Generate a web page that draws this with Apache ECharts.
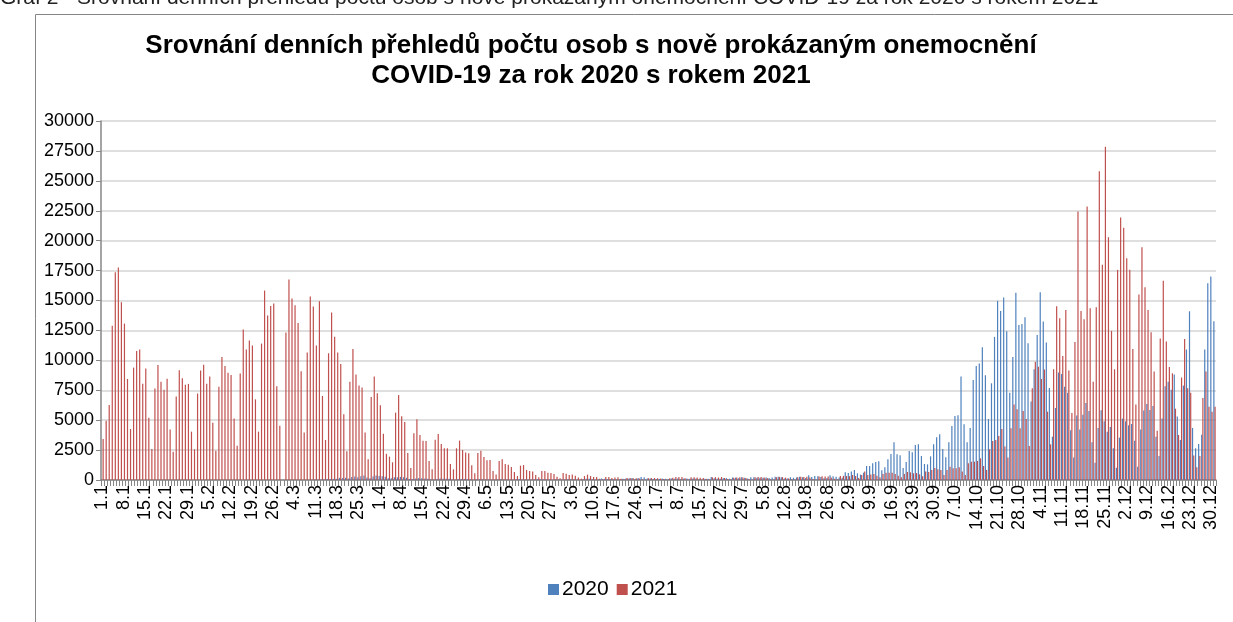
<!DOCTYPE html>
<html>
<head>
<meta charset="utf-8">
<script src="https://cdn.jsdelivr.net/npm/echarts@6/dist/echarts.min.js"></script>
<style>
    html, body { margin: 0; padding: 0; background: #fff; }
    #chart { width: 1233px; height: 622px; }
</style>
</head>
<body>
<div id="chart"></div>
<script>
// delky mesicu v prestupnem roce (osa ma i 29.2)
var monthDays = [31, 29, 31, 30, 31, 30, 31, 31, 30, 31, 30, 31];

// 2020 - denni pocty, po mesicich (366 dni)
var cases2020 = [].concat(
    // leden
    [0,0,0,0,0,0,0,0,0,0,0,0,0,0,0,0,0,0,0,0,0,0,0,0,0,0,0,0,0,0,0],
    // unor
    [0,0,0,0,0,0,0,0,0,0,0,0,0,0,0,0,0,0,0,0,0,0,0,0,0,0,0,0,0],
    // brezen
    [3,0,2,0,3,7,7,5,9,23,49,22,46,37,90,86,94,97,183,162,178,119,255,288,239,323,372,219,155,298,366],
    // duben
    [336,309,274,137,137,238,223,259,230,187,93,82,128,167,149,125,109,72,47,92,123,99,112,103,42,30,63,80,91,62],
    // kveten
    [46,20,37,71,62,43,38,21,11,48,74,43,36,16,22,69,90,52,46,33,33,56,79,55,56,39,32,22,60,58,47],
    // cerven
    [72,92,82,65,33,23,61,107,99,65,37,56,127,98,92,79,67,72,63,110,116,121,168,93,168,260,230,119,121,84],
    // cervenec
    [90,88,116,101,74,124,111,122,82,135,132,102,128,133,58,51,103,113,248,138,100,108,140,153,108,210,196,149,222,181,126],
    // srpen
    [229,238,179,194,189,215,162,215,271,282,235,129,135,230,190,217,272,240,167,400,260,335,311,253,138,163,402,304,276,218,191],
    // zari
    [650,590,700,840,560,450,610,1170,1170,1390,1500,1560,810,1060,1730,2170,3150,2150,2060,1000,1500,2420,2310,2930,2980,2010,1340,1310,1980,2980],
    // rijen
    [3570,3820,2590,1900,3150,4520,5350,5410,8640,4650,3150,4350,8360,9530,9730,11090,8750,5100,8080,11960,14970,14130,15250,12430,7300,10280,15640,12960,13040,13600,11430],
    // listopad
    [6550,9250,12120,15690,13240,11480,7690,3620,6020,8980,8860,7800,7300,4150,1870,5380,4210,5460,6440,5770,3150,1450,4350,5820,4900,4040,4430,2650,1030,3540],
    // prosinec
    [5130,4900,4570,4680,3290,1110,4210,5800,6350,5850,6190,3620,2010,5130,7830,8220,7550,8810,5300,3340,7890,10900,14100,4350,2650,3010,3790,10900,16440,17000,13270]
);

// 2021 - denni pocty, po mesicich (365 dni, 29.2 chybi)
var cases2021 = [].concat(
    // leden
    [3430,4960,6270,12900,17360,17750,14860,13070,8440,4260,9390,10790,10900,8050,9310,5210,2590,7640,9620,8220,7550,8470,4210,2370,6970,9170,8500,7970,8030,4040,2560],
    // unor
    [7220,9140,9640,8050,8640,4790,2450,7800,10280,9530,8970,8780,5130,2870,8890,12570,10900,11650,11230,6740,4040,11400,15830,13740,14550,14740,7830,4540],
    // brezen
    [12320,16750,15160,14600,13130,9090,3960,10650,15330,14490,11230,14940,7020,3340,10590,13990,11980,10650,9700,5490,2400,8220,10950,8810,7890,7720,3960,1730,6940,8640,7250],
    // duben
    [6240,3860,2190,1950,1480,5630,7110,5320,4850,2260,1000,3900,5070,3760,3290,3260,1590,890,3370,3850,3010,2650,2650,1340,890,2650,3290,2510,2290,2230],
    // kveten
    [1230,560,2260,2450,1920,1640,1670,750,450,1590,1730,1340,1280,1090,670,330,1200,1250,840,750,720,420,220,750,750,610,590,500,280,140,590],
    // cerven
    [530,420,470,360,200,110,330,450,330,250,250,110,60,250,250,170,200,220,110,80,170,170,150,140,130,70,50,150,160,170],
    // cervenec
    [150,130,90,40,140,180,250,260,250,140,70,230,240,210,190,170,80,50,220,240,210,250,170,80,50,180,210,220,200,160,70],
    // srpen
    [40,220,250,260,210,160,70,40,230,260,240,200,130,60,40,230,270,250,280,210,90,50,290,320,300,290,210,100,60,330,350],
    // zari
    [340,320,420,330,170,420,700,420,470,500,360,220,500,610,610,610,500,360,220,500,670,640,560,580,470,310,720,670,840,1000],
    // rijen
    [890,840,420,840,1110,980,980,1060,700,420,1390,1530,1530,1590,1810,1170,840,2560,3260,3340,3680,4260,2790,1870,4320,6300,5910,4320,5770,5100,2840],
    // listopad
    [7660,9890,9470,8440,9230,5710,2980,9250,14520,13520,10370,14210,9140,5600,11540,22440,14130,13430,22850,14350,8220,14440,25800,17980,27840,20290,12460,9250,17560,21940],
    // prosinec
    [21070,18530,17560,10950,6300,15500,19450,16110,14210,12350,9060,4120,11820,16640,11570,9450,8920,5960,3760,8560,11790,7660,7300,2040,1060,2010,6860,9060,6130,5710,6130]
);

var yearNames = ["2020", "2021"];
var yTicks = { min: 0, max: 30000, step: 2500 };

// popisky dni "d.m"
var days = [];
monthDays.forEach(function (n, m) {
    for (var d = 1; d <= n; d++) {
        days.push(d + "." + (m + 1));
    }
});

// 2021 nema 29.2 - prazdne misto na ose
var series2021 = cases2021.slice(0, 59).concat([null], cases2021.slice(59));

var font = "Liberation Sans, Arial, sans-serif";
var chart = echarts.init(document.getElementById("chart"), null, { renderer: "canvas" });

chart.setOption({
    backgroundColor: "#fff",
    animation: false,
    color: ["#4F81BD", "#C0504D"],
    title: {
        text: "Srovnání denních přehledů počtu osob s nově prokázaným onemocnění\nCOVID-19 za rok 2020 s rokem 2021",
        left: 586,
        top: 26,
        textAlign: "center",
        textStyle: {
            fontFamily: font,
            fontSize: 26,
            fontWeight: "bold",
            color: "#000",
            lineHeight: 30
        }
    },
    graphic: [
        {
            type: "text",
            left: 0,
            top: -12,
            style: {
                text: "Graf 2 - Srovnání denních přehledů počtu osob s nově prokázaným onemocnění COVID-19 za rok 2020 s rokem 2021",
                font: "21px " + font,
                fill: "#222"
            }
        },
        {
            type: "rect",
            shape: { x: 35.5, y: 14.5, width: 1300, height: 700 },
            style: { fill: null, stroke: "#868686", lineWidth: 1 },
            silent: true
        }
    ],
    legend: {
        data: yearNames,
        left: 543,
        top: 574,
        icon: "rect",
        itemWidth: 11,
        itemHeight: 11,
        itemGap: 8,
        textStyle: { fontFamily: font, fontSize: 21, color: "#000", padding: [0, 0, 0, -2] }
    },
    grid: {
        left: 101,
        right: 17,
        top: 121,
        bottom: 142
    },
    xAxis: {
        type: "category",
        data: days,
        boundaryGap: true,
        axisLine: { lineStyle: { color: "#868686", width: 1.5 } },
        axisTick: { show: true, interval: 0, length: 6, lineStyle: { color: "#868686", width: 1 } },
        axisLabel: {
            interval: 6,
            rotate: 90,
            margin: 5,
            fontFamily: font,
            fontSize: 18,
            color: "#000"
        },
        splitLine: { show: false }
    },
    yAxis: {
        type: "value",
        min: yTicks.min,
        max: yTicks.max,
        interval: yTicks.step,
        axisLine: { show: true, lineStyle: { color: "#868686", width: 1.5 } },
        axisTick: { show: true, length: 5, lineStyle: { color: "#868686" } },
        axisLabel: {
            fontFamily: font,
            fontSize: 18,
            color: "#000",
            margin: 7,
            formatter: function (v) { return String(v); }
        },
        splitLine: { lineStyle: { color: "#d4d4d4", width: 1.5 } }
    },
    series: [
        {
            name: yearNames[0],
            type: "bar",
            data: cases2020,
            barWidth: 1.2,
            barGap: "0%"
        },
        {
            name: yearNames[1],
            type: "bar",
            data: series2021,
            barWidth: 1.2,
            barGap: "0%"
        }
    ]
});
</script>
</body>
</html>
